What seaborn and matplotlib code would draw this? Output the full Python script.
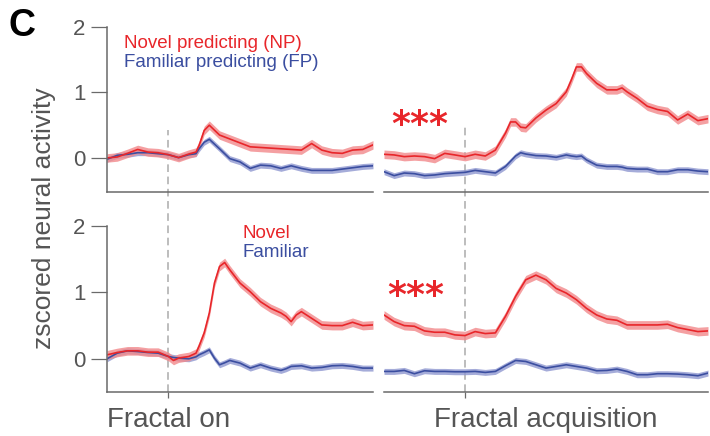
import numpy as np
import pandas as pd
import matplotlib
matplotlib.use("Agg")
import matplotlib.pyplot as plt
import seaborn as sns

# ---------------- data (ms relative to event, z-scored activity) ----------------
# Top row: novel-predicting vs familiar-predicting fractals
t_on_top = [-300, -250, -200, -150, -100, -50, 0, 50, 100, 135, 150, 175, 200, 250,
            300, 350, 400, 450, 500, 550, 600, 650, 700, 750, 800, 850, 900, 950, 1000]
np_on = [0.00, 0.015, 0.07, 0.13, 0.09, 0.08, 0.05, 0.005, 0.06, 0.09, 0.19, 0.42, 0.50, 0.35,
         0.29, 0.23, 0.17, 0.16, 0.15, 0.14, 0.13, 0.12, 0.22, 0.12, 0.08, 0.07, 0.12, 0.13, 0.20]
fp_on = [-0.02, 0.04, 0.055, 0.08, 0.08, 0.065, 0.05, 0.005, 0.05, 0.065, 0.14, 0.24, 0.285, 0.14,
         -0.01, -0.06, -0.16, -0.11, -0.12, -0.16, -0.12, -0.16, -0.19, -0.19, -0.19, -0.17, -0.15,
         -0.13, -0.12]

t_acq_top = [-400, -350, -300, -250, -200, -150, -100, -50, 0, 50, 100, 150, 200, 225, 250, 275,
             300, 350, 400, 450, 500, 525, 550, 575, 600, 650, 700, 750, 775, 800, 850, 900, 950,
             1000, 1050, 1100, 1150, 1200]
np_acq = [0.056, 0.046, 0.02, 0.03, 0.02, -0.01, 0.07, 0.046, 0.02, 0.056, 0.03, 0.12, 0.38, 0.55,
          0.55, 0.47, 0.46, 0.61, 0.73, 0.83, 1.01, 1.19, 1.39, 1.39, 1.29, 1.14, 1.04, 1.04, 1.07,
          1.01, 0.91, 0.79, 0.74, 0.71, 0.58, 0.67, 0.57, 0.60]
fp_acq = [-0.21, -0.27, -0.23, -0.24, -0.27, -0.26, -0.24, -0.23, -0.22, -0.19, -0.21, -0.23, -0.13,
          -0.05, 0.03, 0.08, 0.06, 0.036, 0.03, 0.01, 0.046, 0.03, 0.02, 0.03, -0.03, -0.11, -0.13,
          -0.13, -0.14, -0.16, -0.17, -0.17, -0.21, -0.21, -0.18, -0.18, -0.20, -0.21]

# Bottom row: novel vs familiar fractals
t_on_bot = [-300, -250, -200, -150, -100, -50, 0, 25, 50, 100, 135, 150, 175, 200, 225, 250, 275,
            300, 350, 400, 450, 500, 550, 575, 600, 625, 650, 700, 750, 800, 850, 900, 950, 1000]
nov_on = [0.06, 0.095, 0.12, 0.12, 0.10, 0.10, 0.035, -0.025, 0.01, 0.035, 0.085, 0.19, 0.39, 0.69,
          1.14, 1.39, 1.45, 1.34, 1.14, 1.01, 0.86, 0.76, 0.69, 0.64, 0.56, 0.66, 0.71, 0.61, 0.51,
          0.50, 0.50, 0.55, 0.50, 0.51]
fam_on = [0.00, 0.085, 0.12, 0.11, 0.095, 0.085, 0.035, 0.02, 0.01, 0.00, 0.03, 0.06, 0.095, 0.135,
          0.01, -0.09, -0.06, -0.025, -0.065, -0.14, -0.09, -0.14, -0.175, -0.15, -0.115, -0.11,
          -0.105, -0.14, -0.13, -0.105, -0.10, -0.115, -0.14, -0.14]

t_acq_bot = [-400, -350, -300, -250, -200, -150, -100, -50, 0, 50, 100, 150, 200, 250, 300, 350,
             400, 450, 500, 550, 600, 650, 700, 750, 800, 850, 900, 950, 1000, 1050, 1100, 1150, 1200]
nov_acq = [0.66, 0.56, 0.50, 0.49, 0.42, 0.40, 0.40, 0.36, 0.35, 0.41, 0.38, 0.39, 0.64, 0.94, 1.19,
           1.26, 1.19, 1.06, 0.99, 0.89, 0.76, 0.66, 0.60, 0.58, 0.51, 0.51, 0.51, 0.51, 0.52, 0.47,
           0.44, 0.41, 0.42]
fam_acq = [-0.19, -0.19, -0.175, -0.225, -0.18, -0.19, -0.19, -0.195, -0.195, -0.19, -0.205, -0.19,
           -0.105, -0.025, -0.04, -0.09, -0.14, -0.115, -0.09, -0.115, -0.14, -0.18, -0.175, -0.155,
           -0.19, -0.24, -0.24, -0.225, -0.225, -0.23, -0.24, -0.255, -0.215]

# standard error of the mean for each condition
sem_novel = 0.065
sem_familiar = 0.045

yticks = [0, 1, 2]
labels_top = ["Novel predicting (NP)", "Familiar predicting (FP)"]
labels_bot = ["Novel", "Familiar"]
xlabels = ["Fractal on", "Fractal acquisition"]
stars = "***"

# ---------------- style ----------------
RED = "#e8262a"
BLUE = "#3b4ea0"
RED_BAND = "#f2898b"
BLUE_BAND = "#8f97d0"
GRAY = "#555555"
SPINE = "#6a6a6a"

sns.set_theme(style="ticks")
plt.rcParams["font.family"] = ["Liberation Sans", "DejaVu Sans"]

W, H = 710, 436
fig = plt.figure(figsize=(W / 100, H / 100), dpi=100)


def px_axes(x0, x1, ytop, ybot):
    return fig.add_axes([x0 / W, 1 - ybot / H, (x1 - x0) / W, (ybot - ytop) / H])


ax_tl = px_axes(107, 373, 27, 192)
ax_tr = px_axes(384, 708, 27, 192)
ax_bl = px_axes(107, 373, 226, 392)
ax_br = px_axes(384, 708, 226, 392)


def draw(ax, t, novel, familiar):
    df = pd.DataFrame({
        "time": list(t) * 2,
        "z": list(familiar) + list(novel),
        "cond": ["familiar"] * len(t) + ["novel"] * len(t),
    })
    ax.fill_between(t, np.array(familiar) - sem_familiar, np.array(familiar) + sem_familiar,
                    color=BLUE_BAND, alpha=0.8, lw=0)
    ax.fill_between(t, np.array(novel) - sem_novel, np.array(novel) + sem_novel,
                    color=RED_BAND, alpha=0.8, lw=0)
    sns.lineplot(data=df, x="time", y="z", hue="cond",
                 palette={"familiar": BLUE, "novel": RED},
                 legend=False, ax=ax, linewidth=1.2, errorbar=None)
    ax.set_xlabel("")
    ax.set_ylabel("")


draw(ax_tl, t_on_top, np_on, fp_on)
draw(ax_tr, t_acq_top, np_acq, fp_acq)
draw(ax_bl, t_on_bot, nov_on, fam_on)
draw(ax_br, t_acq_bot, nov_acq, fam_acq)

for ax in (ax_tl, ax_bl):
    ax.set_xlim(-300, 1000)
for ax in (ax_tr, ax_br):
    ax.set_xlim(-400, 1200)
ax_tl.set_ylim(-0.52, 2)
ax_tr.set_ylim(-0.52, 2)
ax_bl.set_ylim(-0.5, 2)
ax_br.set_ylim(-0.5, 2)

for ax in (ax_tl, ax_tr, ax_bl, ax_br):
    ax.set_facecolor("none")
    for s in ("top", "right"):
        ax.spines[s].set_visible(False)
    for s in ("left", "bottom"):
        ax.spines[s].set_color(SPINE)
        ax.spines[s].set_linewidth(1.1)

for ax in (ax_tl, ax_bl):
    ax.set_yticks(yticks)
    ax.set_yticklabels([str(v) for v in yticks])
    ax.tick_params(axis="y", direction="out", length=11.5, width=0.9, color=SPINE,
                   labelsize=16, labelcolor=GRAY, pad=4)
for ax in (ax_tr, ax_br):
    ax.spines["left"].set_visible(False)
    ax.set_yticks([])

for ax in (ax_tl, ax_tr):
    ax.set_xticks([])
for ax in (ax_bl, ax_br):
    ax.set_xticks([0])
    ax.set_xticklabels([""])
    ax.tick_params(axis="x", direction="out", length=4, width=0.9, color=SPINE)

# event markers spanning both rows
for ax, top_frac in ((ax_tl, 0.376), (ax_tr, 0.40)):
    ax.axvline(0, ymin=-1.212, ymax=top_frac, color="#ababab", lw=1.1,
               ls=(0, (5, 3)), clip_on=False, zorder=0)

# condition labels
fig.text(124 / W, 1 - 48 / H, labels_top[0], color=RED, fontsize=13.5, va="baseline")
fig.text(124 / W, 1 - 67 / H, labels_top[1], color=BLUE, fontsize=13.5, va="baseline")
fig.text(243 / W, 1 - 238 / H, labels_bot[0], color=RED, fontsize=13.5, va="baseline")
fig.text(243 / W, 1 - 257 / H, labels_bot[1], color=BLUE, fontsize=13.5, va="baseline")

# significance markers
ax_tr.text(-225, 0.50, stars, color=RED, fontsize=26, fontweight="bold",
           family="DejaVu Sans", ha="center", va="center")
ax_br.text(-245, 0.95, stars, color=RED, fontsize=26, fontweight="bold",
           family="DejaVu Sans", ha="center", va="center")

# axis annotations
fig.text(107 / W, 1 - 427 / H, xlabels[0], color=GRAY, fontsize=20, va="baseline", ha="left")
fig.text(546 / W, 1 - 427 / H, xlabels[1], color=GRAY, fontsize=20, va="baseline", ha="center")
fig.text(44 / W, 1 - 218 / H, "zscored neural activity", color=GRAY, fontsize=19,
         rotation=90, ha="center", va="center")
fig.text(9 / W, 1 - 26 / H, "C", color="black", fontsize=27, fontweight="bold",
         ha="left", va="center")

fig.savefig("out.png", dpi=100)
